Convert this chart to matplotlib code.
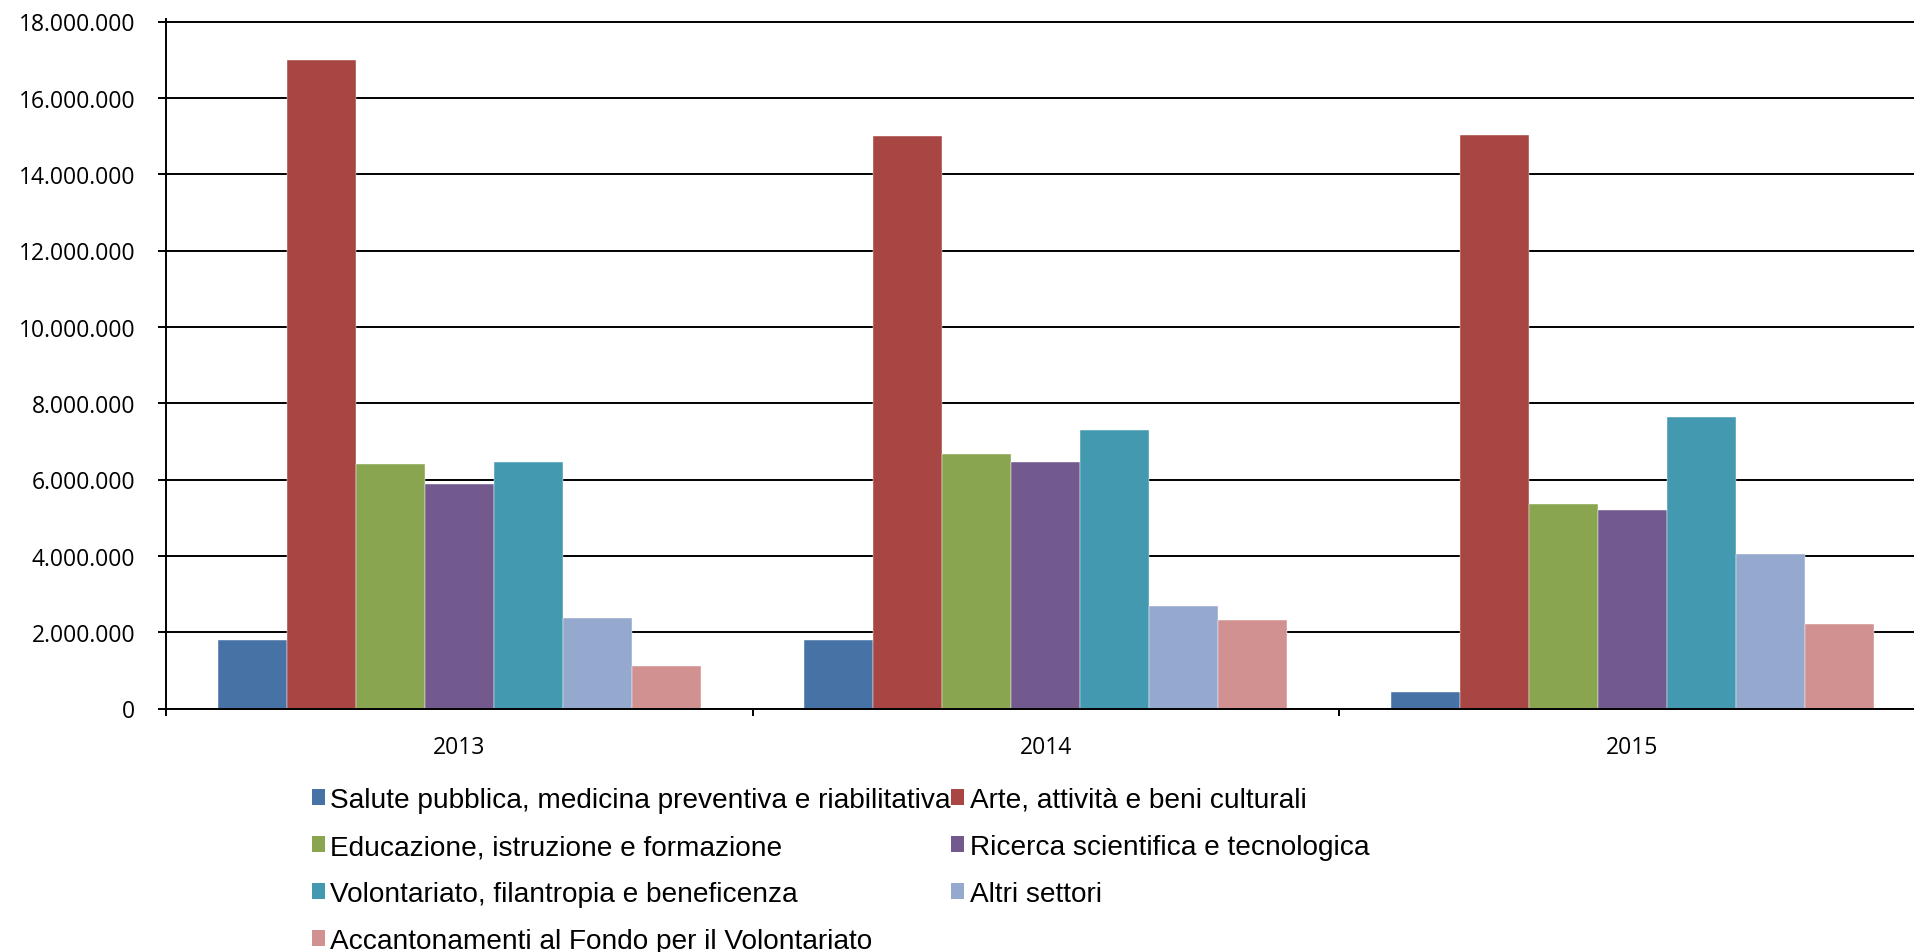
import matplotlib
matplotlib.use("Agg")
import matplotlib.pyplot as plt
from matplotlib.patches import Patch
from matplotlib.ticker import FixedLocator
import numpy as np

# ---- data ----
years = ["2013", "2014", "2015"]
series_names = [
    "Salute pubblica, medicina preventiva e riabilitativa",
    "Arte, attività e beni culturali",
    "Educazione, istruzione e formazione",
    "Ricerca scientifica e tecnologica",
    "Volontariato, filantropia e beneficenza",
    "Altri settori",
    "Accantonamenti al Fondo per il Volontariato",
]
salute = [1800000, 1800000, 430000]
arte = [16980000, 14990000, 15030000]
educazione = [6410000, 6660000, 5360000]
ricerca = [5870000, 6450000, 5200000]
volontariato = [6450000, 7300000, 7650000]
altri = [2360000, 2690000, 4040000]
accantonamenti = [1120000, 2320000, 2220000]

y_ticks = [0, 2000000, 4000000, 6000000, 8000000, 10000000, 12000000, 14000000, 16000000, 18000000]
y_tick_labels = ["0", "2.000.000", "4.000.000", "6.000.000", "8.000.000", "10.000.000",
                 "12.000.000", "14.000.000", "16.000.000", "18.000.000"]

colors = ["#4672A6", "#A84644", "#8AA54F", "#72598E", "#4399AF", "#95A9CF", "#D29191"]

series = [salute, arte, educazione, ricerca, volontariato, altri, accantonamenti]

# ---- figure ----
W, H = 1914, 953
fig = plt.figure(figsize=(W / 100, H / 100), dpi=100)
fig.patch.set_facecolor("white")

ax_left, ax_bottom_px, ax_top_px, cat_w = 166, 709.5, 22.5, 586.5
ymax = 18000000
ytop = ymax * 1.004
top_px = ax_bottom_px - (ax_bottom_px - ax_top_px) * ytop / ymax
ax = fig.add_axes([ax_left / W, 1 - ax_bottom_px / H, 3 * cat_w / W, (ax_bottom_px - top_px) / H])

n = len(series)
bw = 1 / 8.5
x = np.arange(len(years))
handles = []
for j, (vals, c) in enumerate(zip(series, colors)):
    ax.bar(x + (j - (n - 1) / 2) * bw, vals, width=bw, color=c,
           edgecolor="#FFFFFF", linewidth=0.3, zorder=2, label=series_names[j])
    handles.append(Patch(facecolor=c, edgecolor="none"))

ax.set_xlim(-0.5, 2.5)
ax.set_ylim(0, ytop)

ax.set_yticks(y_ticks)
ax.set_yticklabels(y_tick_labels)
ax.yaxis.grid(True, color="black", linewidth=1.4, zorder=0)
ax.set_axisbelow(True)
ax.tick_params(axis="y", direction="out", length=5.5, width=1.4, pad=16.5,
               labelsize=16.5, colors="black")

ax.set_xticks(x)
ax.set_xticklabels(years)
ax.xaxis.set_minor_locator(FixedLocator([-0.5, 0.5, 1.5, 2.5]))
ax.tick_params(axis="x", which="major", length=0, pad=19, labelsize=16.5)
ax.tick_params(axis="x", which="minor", direction="out", length=5, width=1.4)

for lab in ax.get_xticklabels() + ax.get_yticklabels():
    lab.set_family(["Open Sans", "DejaVu Sans"])

for s in ["top", "right"]:
    ax.spines[s].set_visible(False)
for s in ["left", "bottom"]:
    ax.spines[s].set_color("black")
    ax.spines[s].set_linewidth(1.4)

# ---- legend (row-wise order across 2 columns) ----
order = [0, 2, 4, 6, 1, 3, 5]
fig.legend([handles[i] for i in order], [series_names[i] for i in order],
           ncol=2, loc="upper left", bbox_to_anchor=(311.7 / W, 1 - 788 / H),
           frameon=False, borderpad=0, borderaxespad=0,
           handlelength=0.47, handleheight=0.47, handletextpad=0.2,
           columnspacing=0.0, labelspacing=0.75,
           prop={"family": ["Liberation Sans", "DejaVu Sans"], "size": 20.2})

fig.savefig("out.png", dpi=100, facecolor="white")
